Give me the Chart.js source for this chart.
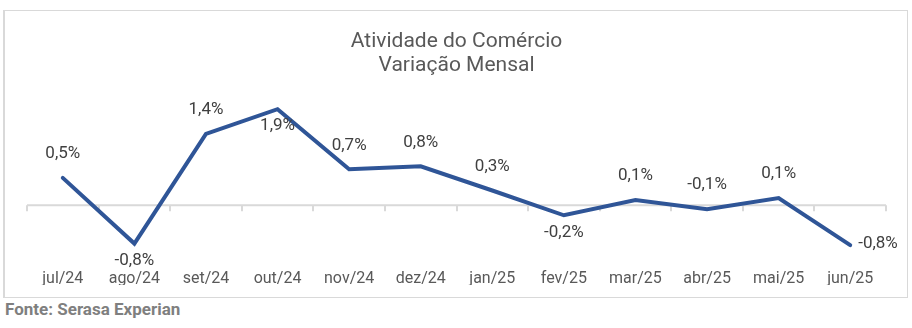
<!DOCTYPE html>
<html>
<head>
<meta charset="utf-8">
<script src="https://cdn.jsdelivr.net/npm/chart.js@4"></script>
<style>
  body { margin: 0; background: #fff; font-family: Roboto, sans-serif; }
  #box { position: absolute; left: 3px; top: 10px; width: 902px; height: 286px; border: 1px solid #d9d9d9; border-left-width: 2px; }
  #fonte { position: absolute; left: 5px; top: 301px; font: bold 17px/16px Roboto, sans-serif; color: #7f7f7f; }
</style>
</head>
<body>
<div id="box"><canvas id="chart" width="902" height="286"></canvas></div>
<div id="fonte">Fonte: Serasa Experian</div>
<script>
// Data for the chart
var months = ["jul/24", "ago/24", "set/24", "out/24", "nov/24", "dez/24", "jan/25", "fev/25", "mar/25", "abr/25", "mai/25", "jun/25"];
var variacao = [0.54, -0.76, 1.41, 1.9, 0.71, 0.77, 0.29, -0.2, 0.1, -0.08, 0.14, -0.79];

// where each value label goes
var labelPos = ["top", "bottom", "top", "bottom", "top", "top", "top", "bottom", "top", "top", "top", "right"];

// zero line + little tick marks on it
var zeroLine = {
  id: "zeroLine",
  beforeDatasetsDraw: function (chart) {
    var ctx = chart.ctx, y0 = chart.scales.y.getPixelForValue(0);
    var area = chart.chartArea;
    var step = (area.right - area.left) / months.length;
    ctx.save();
    ctx.strokeStyle = "#d9d9d9";
    ctx.lineWidth = 2;
    ctx.beginPath();
    ctx.moveTo(area.left, y0);
    ctx.lineTo(area.right, y0);
    for (var i = 0; i <= months.length; i++) {
      var px = Math.round(area.left + i * step);
      ctx.moveTo(px, y0);
      ctx.lineTo(px, y0 + 6);
    }
    ctx.stroke();
    ctx.restore();
  }
};

// value labels
var valueLabels = {
  id: "valueLabels",
  afterDatasetsDraw: function (chart) {
    var ctx = chart.ctx;
    var pts = chart.getDatasetMeta(0).data;
    ctx.save();
    ctx.font = "17px Roboto";
    ctx.fillStyle = "#404040";
    ctx.textBaseline = "middle";
    pts.forEach(function (p, i) {
      var txt = variacao[i].toFixed(1).replace(".", ",") + "%";
      if (labelPos[i] == "right") {
        ctx.textAlign = "left";
        ctx.fillText(txt, p.x + 8, p.y - 1);
      } else if (labelPos[i] == "bottom") {
        ctx.textAlign = "center";
        ctx.fillText(txt, p.x, p.y + 17);
      } else {
        ctx.textAlign = "center";
        ctx.fillText(txt, p.x, p.y - 24);
      }
    });
    ctx.restore();
  }
};

var ctx = document.getElementById("chart").getContext("2d");
var chart = new Chart(ctx, {
  type: "line",
  data: {
    labels: months,
    datasets: [{
      data: variacao,
      borderColor: "#2f5597",
      borderWidth: 4,
      borderCapStyle: "round",
      pointRadius: 0,
      tension: 0
    }]
  },
  options: {
    responsive: false,
    animation: false,
    layout: { padding: { left: 22, right: 21, top: 0, bottom: 12 } },
    plugins: {
      legend: { display: false },
      tooltip: { enabled: false },
      title: {
        display: true,
        text: ["Atividade do Comércio", "Variação Mensal"],
        color: "#595959",
        font: { family: "Roboto", size: 21, weight: "normal", lineHeight: 1.143 },
        padding: { top: 19, bottom: 16 }
      }
    },
    scales: {
      x: {
        offset: true,
        grid: { display: false },
        border: { display: false },
        ticks: { color: "#595959", font: { family: "Roboto", size: 16 }, padding: -4, maxRotation: 0 }
      },
      y: {
        display: false,
        min: -1.2,
        max: 2.2
      }
    }
  },
  plugins: [zeroLine, valueLabels]
});
</script>
</body>
</html>
